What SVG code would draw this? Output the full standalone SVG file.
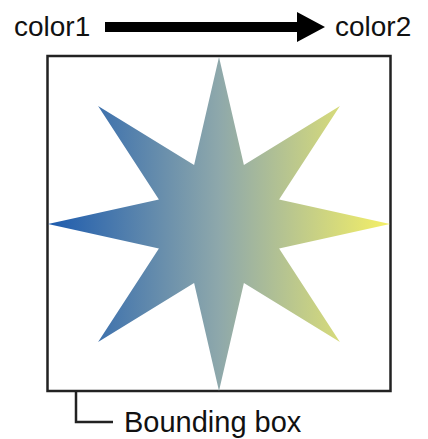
<svg xmlns="http://www.w3.org/2000/svg" width="428" height="439" viewBox="0 0 428 439">
<style>
.lbl{font-family:"Liberation Sans",Arial,Helvetica,sans-serif;fill:#111}
.line{fill:none;stroke:#222;stroke-width:2.5}
</style>
<defs>
<linearGradient id="g" x1="0" y1="0" x2="1" y2="0">
<stop offset="0" stop-color="#1d5bae"/>
<stop offset="0.5" stop-color="#8ea8ab"/>
<stop offset="1" stop-color="#f5f066"/>
</linearGradient>
</defs>
<rect width="428" height="439" fill="#fff"/>
<g id="header">
<text class="lbl" x="14" y="36" font-size="28">color1</text>
<polygon points="105,22 297,22 297,12 325,27 297,42 297,32 105,32" fill="#000"/>
<text class="lbl" x="335" y="36" font-size="28">color2</text>
</g>
<g id="bbox">
<rect class="line" x="47.5" y="56" width="343" height="335"/>
</g>
<g id="star">
<polygon fill="url(#g)" points="219,57 243.9,164.9 339.9,105.9 279.1,199.5 390,224 279.1,248.5 339.9,342.1 243.9,283.1 219,391 194.1,283.1 98.1,342.1 158.9,248.5 48,224 158.9,199.5 98.1,105.9 194.1,164.9"/>
</g>
<g id="connectors">
<polyline class="line" points="76,391 76,422 113,422" stroke-width="2"/>
</g>
<g id="label">
<text class="lbl" x="124" y="432" font-size="29">Bounding box</text>
</g>
</svg>
